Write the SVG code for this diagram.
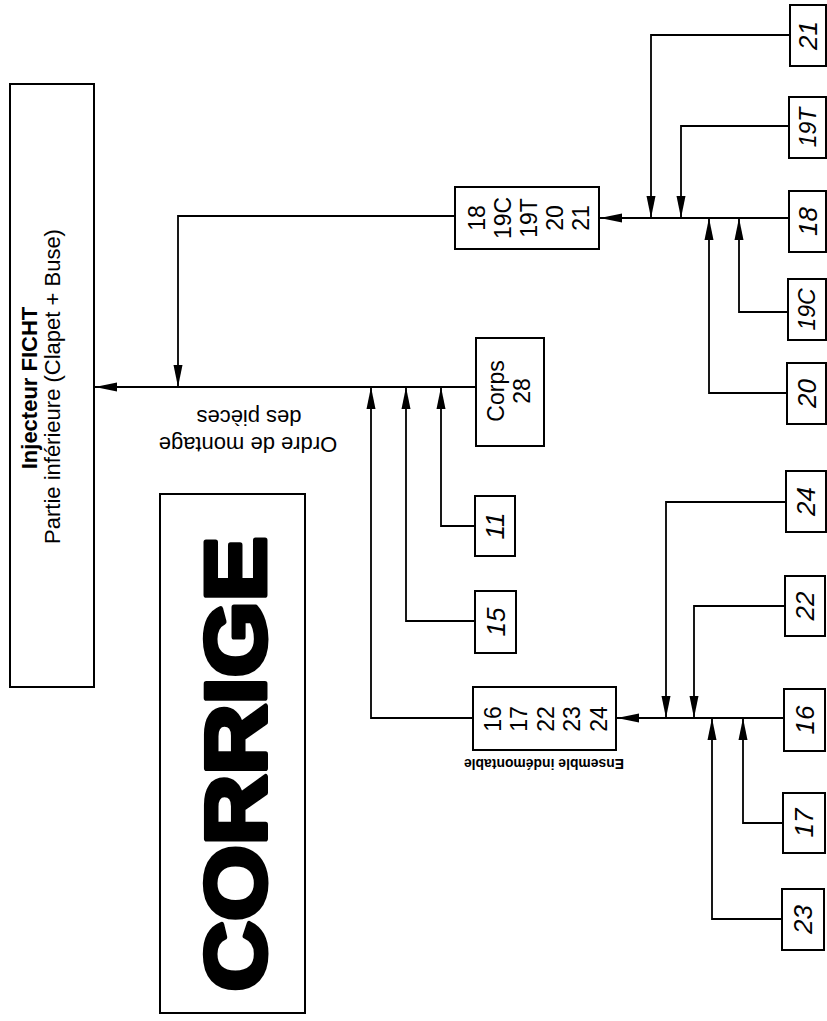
<svg xmlns="http://www.w3.org/2000/svg" width="827" height="1021" viewBox="0 0 827 1021">
<defs>
<style>
.box{fill:none;stroke:#000;stroke-width:2}
.ln{fill:none;stroke:#000;stroke-width:1.8;marker-end:url(#ah)}
.t{font-family:"Liberation Sans",Arial,sans-serif;font-size:22px;fill:#000;text-anchor:middle}
.bx{font-size:23px}
.hw{font-family:"Liberation Sans",Arial,sans-serif;font-style:italic;font-size:26px;fill:#000;text-anchor:middle}
.hw3{font-size:23px}
</style>
<marker id="ah" viewBox="0 0 22 10" markerWidth="22" markerHeight="10" refX="22" refY="5" orient="auto" markerUnits="userSpaceOnUse">
<path d="M0,0.5 L22,5 L0,9.5 Z" fill="#000"/>
</marker>
</defs>
<rect width="827" height="1021" fill="#fff"/>

<g id="connectors">
<path class="ln" d="M476,387 L95,387"/>
<path class="ln" d="M455,216 L178,216 L178,387"/>
<path class="ln" d="M475,526 L441,526 L441,387"/>
<path class="ln" d="M475,621 L406,621 L406,387"/>
<path class="ln" d="M473,718 L371,718 L371,387"/>
<path class="ln" d="M789,218 L600,218"/>
<path class="ln" d="M790,35 L651,35 L651,218"/>
<path class="ln" d="M789,126 L681,126 L681,218"/>
<path class="ln" d="M788,312 L739,312 L739,218"/>
<path class="ln" d="M787,393 L709,393 L709,218"/>
<path class="ln" d="M784,718 L617,718"/>
<path class="ln" d="M786,502 L666,502 L666,718"/>
<path class="ln" d="M785,606 L694,606 L694,718"/>
<path class="ln" d="M783,823 L743,823 L743,718"/>
<path class="ln" d="M782,919 L712,919 L712,718"/>
</g>

<g id="injecteur">
<rect class="box" x="10" y="84" width="84" height="603"/>
<text class="t" font-weight="bold" transform="translate(36.5,388) rotate(-90)">Injecteur FICHT</text>
<text class="t" transform="translate(60,386.5) rotate(-90)">Partie inférieure (Clapet + Buse)</text>
</g>

<g id="ordre-label">
<text class="t" transform="translate(248,437) rotate(180)">Ordre de montage</text>
<text class="t" transform="translate(249,410) rotate(180)">des pièces</text>
</g>

<g id="corrige">
<rect class="box" x="160" y="494" width="145" height="519"/>
<text font-family="'Liberation Sans',Arial,sans-serif" font-weight="bold" font-size="86" fill="#000" stroke="#000" stroke-width="5" stroke-linejoin="round" text-anchor="middle" textLength="455" lengthAdjust="spacingAndGlyphs" transform="translate(265,764) rotate(-90)">CORRIGE</text>
</g>

<g id="sous-ensemble-18-21">
<rect class="box" x="455" y="187" width="144" height="62"/>
<text class="t bx" transform="translate(485,218) rotate(-90)">18</text>
<text class="t bx" transform="translate(511,218) rotate(-90)">19C</text>
<text class="t bx" transform="translate(537,218) rotate(-90)">19T</text>
<text class="t bx" transform="translate(563,218) rotate(-90)">20</text>
<text class="t bx" transform="translate(589,218) rotate(-90)">21</text>
</g>

<g id="corps">
<rect class="box" x="476" y="338" width="68" height="108"/>
<text class="t bx" transform="translate(504,391) rotate(-90)">Corps</text>
<text class="t bx" transform="translate(530,391) rotate(-90)">28</text>
</g>

<g id="ensemble-16-24">
<rect class="box" x="473" y="687" width="143" height="63"/>
<text class="t bx" transform="translate(500.5,719) rotate(-90)">16</text>
<text class="t bx" transform="translate(527,719) rotate(-90)">17</text>
<text class="t bx" transform="translate(553.5,719) rotate(-90)">22</text>
<text class="t bx" transform="translate(580,719) rotate(-90)">23</text>
<text class="t bx" transform="translate(606.5,719) rotate(-90)">24</text>
<text class="t" font-weight="bold" style="font-size:14px" textLength="160" lengthAdjust="spacingAndGlyphs" transform="translate(544,759) rotate(180)">Ensemble indémontable</text>
</g>

<g id="p11"><rect class="box" x="475" y="496" width="40" height="60"/><text class="hw" transform="translate(504,526) rotate(-90)">11</text></g>
<g id="p15"><rect class="box" x="475" y="591" width="41" height="62"/><text class="hw" transform="translate(504.5,622) rotate(-90)">15</text></g>

<g id="p21"><rect class="box" x="790" y="5" width="36" height="61"/><text class="hw" transform="translate(817,35.5) rotate(-90)">21</text></g>
<g id="p19T"><rect class="box" x="789" y="97" width="37" height="61"/><text class="hw hw3" transform="translate(815.5,127.5) rotate(-90)">19T</text></g>
<g id="p18"><rect class="box" x="789" y="191" width="37" height="61"/><text class="hw" transform="translate(816.5,221.5) rotate(-90)">18</text></g>
<g id="p19C"><rect class="box" x="788" y="279" width="38" height="61"/><text class="hw hw3" transform="translate(815,309.5) rotate(-90)">19C</text></g>
<g id="p20"><rect class="box" x="787" y="363" width="39" height="61"/><text class="hw" transform="translate(815.5,393.5) rotate(-90)">20</text></g>
<g id="p24"><rect class="box" x="786" y="471" width="40" height="61"/><text class="hw" transform="translate(815,501.5) rotate(-90)">24</text></g>
<g id="p22"><rect class="box" x="785" y="576" width="40" height="60"/><text class="hw" transform="translate(814,606) rotate(-90)">22</text></g>
<g id="p16"><rect class="box" x="784" y="689" width="41" height="62"/><text class="hw" transform="translate(813.5,720) rotate(-90)">16</text></g>
<g id="p17"><rect class="box" x="783" y="793" width="42" height="60"/><text class="hw" transform="translate(813,823) rotate(-90)">17</text></g>
<g id="p23"><rect class="box" x="782" y="889" width="42" height="61"/><text class="hw" transform="translate(812,919.5) rotate(-90)">23</text></g>
</svg>
